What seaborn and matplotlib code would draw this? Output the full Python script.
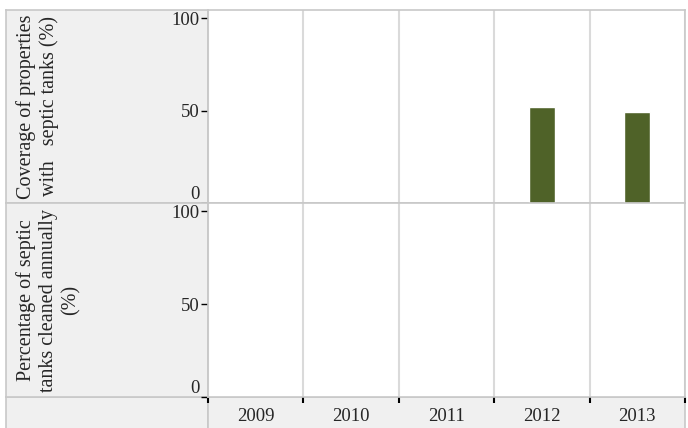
import matplotlib
matplotlib.use("Agg")
import matplotlib.pyplot as plt
import numpy as np
import pandas as pd
import seaborn as sns

years = ["2009", "2010", "2011", "2012", "2013"]
coverage = [np.nan, np.nan, np.nan, 52, 49.5]
cleaned = [np.nan, np.nan, np.nan, np.nan, np.nan]
row_labels = [
    "Coverage of properties\nwith   septic tanks (%)",
    "Percentage of septic\ntanks cleaned annually\n(%)",
]
y_ticks = [0, 50, 100]

BAR_COLOR = "#4f6228"
PANEL_GREY = "#f0f0f0"
BORDER = "#c8c8c8"
GRID = "#dadada"

sns.set_style("white")
plt.rcParams["font.family"] = ["Liberation Serif", "DejaVu Serif"]

W, H = 688, 428
fig = plt.figure(figsize=(W / 100, H / 100), dpi=100)


def box(x0, y0, x1, y1):
    # pixel box -> figure fraction rect
    return [x0 / W, 1 - y1 / H, (x1 - x0) / W, (y1 - y0) / H]


def style_border(ax):
    for s in ax.spines.values():
        s.set_color(BORDER)
        s.set_linewidth(1.2)


# bottom strip (drawn first so the tick marks of the data axes sit on top)
strip_left = fig.add_axes(box(6, 397, 208, 430))
strip_right = fig.add_axes(box(208, 397, 685, 430))
for sa in (strip_left, strip_right):
    sa.set_facecolor(PANEL_GREY)
    sa.set_xticks([])
    sa.set_yticks([])
    style_border(sa)

rows = [(10, 203, coverage), (203, 397, cleaned)]
axes = []
for i, (y0, y1, vals) in enumerate(rows):
    lab = fig.add_axes(box(6, y0, 208, y1))
    lab.set_facecolor(PANEL_GREY)
    lab.set_xticks([])
    lab.set_yticks([])
    style_border(lab)
    lab.text(10 / 202, 0.5, row_labels[i], rotation=90, ha="left", va="center",
             multialignment="center", fontsize=14.5, transform=lab.transAxes,
             linespacing=1.22)

    ax = fig.add_axes(box(208, y0, 685, y1))
    df = pd.DataFrame({"year": years, "value": vals})
    if df["value"].notna().any():
        sns.barplot(data=df, x="year", y="value", order=years, color=BAR_COLOR,
                    width=0.27, saturation=1, ax=ax, zorder=3)
    ax.set_xlim(-0.5, len(years) - 0.5)
    ax.set_ylim(0, 104.5)
    for b in np.arange(-0.5, len(years), 1.0):
        ax.axvline(b, color=GRID, lw=1.5, zorder=1)
    ax.set_xlabel("")
    ax.set_ylabel("")
    ax.set_yticks(y_ticks)
    ax.set_yticklabels([str(t) for t in y_ticks], fontsize=13.5)
    ax.tick_params(axis="y", left=True, length=5, width=1, pad=1, color="black")
    ax.get_yticklabels()[0].set_va("bottom")
    ax.yaxis.get_major_ticks()[0].tick1line.set_color(BORDER)
    style_border(ax)
    axes.append(ax)

axes[0].set_xticks([])
bottom = axes[1]
bottom.set_xticks(np.arange(-0.5, len(years), 1.0))
bottom.set_xticklabels([])
bottom.tick_params(axis="x", bottom=True, length=4, width=1.5, color="black")
bottom.set_xticks(np.arange(len(years)), minor=True)
bottom.set_xticklabels(years, minor=True, fontsize=13.5)
bottom.tick_params(axis="x", which="minor", length=0, pad=8)
for t in (bottom.xaxis.get_major_ticks()[0], bottom.xaxis.get_major_ticks()[-1]):
    t.tick1line.set_color(BORDER)

fig.savefig("out.png", dpi=100)
